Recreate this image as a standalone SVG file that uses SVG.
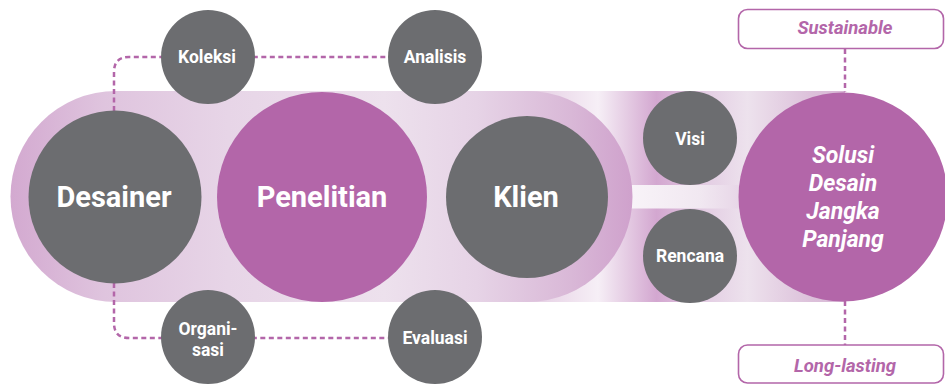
<svg xmlns="http://www.w3.org/2000/svg" width="945" height="384" viewBox="0 0 945 384">
  <defs>
    <linearGradient id="pillGrad" gradientUnits="userSpaceOnUse" x1="10" y1="0" x2="633" y2="0">
      <stop offset="0" stop-color="#d3a9d0"/>
      <stop offset="0.15" stop-color="#dfc4de"/>
      <stop offset="0.35" stop-color="#e7d5e7"/>
      <stop offset="0.6" stop-color="#ede1ed"/>
      <stop offset="0.75" stop-color="#e6d3e6"/>
      <stop offset="0.9" stop-color="#d9b8d7"/>
      <stop offset="1" stop-color="#cfa1cc"/>
    </linearGradient>
    <linearGradient id="barGrad" gradientUnits="userSpaceOnUse" x1="520" y1="0" x2="845" y2="0">
      <stop offset="0" stop-color="#e2c8e0"/>
      <stop offset="0.24" stop-color="#f6eff6"/>
      <stop offset="0.42" stop-color="#d3a7d0"/>
      <stop offset="0.58" stop-color="#e4cfe4"/>
      <stop offset="0.7" stop-color="#ede2ed"/>
      <stop offset="0.9" stop-color="#dcc0da"/>
      <stop offset="1" stop-color="#d8b8d6"/>
    </linearGradient>
    <linearGradient id="gapGrad" gradientUnits="userSpaceOnUse" x1="632" y1="0" x2="745" y2="0">
      <stop offset="0" stop-color="#f8f3f8"/>
      <stop offset="0.6" stop-color="#f1e8f1"/>
      <stop offset="1" stop-color="#e6d4e6"/>
    </linearGradient>
    <style>
      .gray { fill: #6c6d70; }
      .mag { fill: #b366a9; }
      .lbl { font-family: Roboto, "Liberation Sans", sans-serif; font-weight: 700; fill: #ffffff; text-anchor: middle; }
      .big { font-size: 29px; }
      .small { font-size: 17.5px; }
      .sol { font-size: 23px; font-style: italic; }
      .dash { fill: none; stroke: #b366a9; stroke-width: 2.5; stroke-dasharray: 5 3.5; }
      .tag { fill: #ffffff; stroke: #b366a9; stroke-width: 1.6; }
      .tagtxt { font-family: Roboto, "Liberation Sans", sans-serif; font-weight: 700; font-style: italic; font-size: 18.5px; fill: #b366a9; text-anchor: middle; }
    </style>
  </defs>

  <!-- background band -->
  <g id="band">
    <rect x="520" y="91" width="325" height="211" fill="url(#barGrad)"/>
    <rect x="620" y="185" width="225" height="23.5" fill="url(#gapGrad)"/>
    <path d="M116 91 H527 A105.5 105.5 0 0 1 527 302 H116 A105.5 105.5 0 0 1 116 91 Z" fill="url(#pillGrad)"/>
  </g>

  <!-- dashed connectors -->
  <g id="connectors">
    <path class="dash" d="M114 111 V72 Q114 57 129 57 H435"/>
    <path class="dash" d="M114 283 V323 Q114 338 129 338 H435"/>
    <path class="dash" d="M845 49 V92"/>
    <path class="dash" d="M845 301 V345"/>
  </g>

  <g id="desainer">
    <circle class="gray" cx="115" cy="197" r="86.5"/>
    <text class="lbl big" x="114" y="207">Desainer</text>
  </g>
  <g id="penelitian">
    <circle class="mag" cx="322" cy="197" r="105"/>
    <text class="lbl big" x="322" y="207">Penelitian</text>
  </g>
  <g id="klien">
    <circle class="gray" cx="527" cy="197" r="81"/>
    <text class="lbl big" x="526" y="207">Klien</text>
  </g>

  <g id="koleksi">
    <circle class="gray" cx="208" cy="57" r="47"/>
    <text class="lbl small" x="207" y="63">Koleksi</text>
  </g>
  <g id="analisis">
    <circle class="gray" cx="435" cy="57" r="47"/>
    <text class="lbl small" x="435" y="63">Analisis</text>
  </g>
  <g id="organisasi">
    <circle class="gray" cx="208" cy="337" r="47"/>
    <text class="lbl small" x="208" y="335">Organi-</text>
    <text class="lbl small" x="208" y="356">sasi</text>
  </g>
  <g id="evaluasi">
    <circle class="gray" cx="435" cy="337" r="47"/>
    <text class="lbl small" x="435" y="344">Evaluasi</text>
  </g>

  <g id="visi">
    <circle class="gray" cx="690" cy="138" r="47"/>
    <text class="lbl small" x="690" y="145">Visi</text>
  </g>
  <g id="rencana">
    <circle class="gray" cx="690" cy="256" r="47"/>
    <text class="lbl small" x="690" y="262">Rencana</text>
  </g>

  <g id="solusi">
    <circle class="mag" cx="843" cy="197" r="104.5"/>
    <text class="lbl sol" x="843" y="163">Solusi</text>
    <text class="lbl sol" x="843" y="191">Desain</text>
    <text class="lbl sol" x="843" y="219">Jangka</text>
    <text class="lbl sol" x="843" y="247">Panjang</text>
  </g>

  <g id="sustainable">
    <rect class="tag" x="738.5" y="9.5" width="205" height="39" rx="9"/>
    <text class="tagtxt" x="845" y="34">Sustainable</text>
  </g>
  <g id="long-lasting">
    <rect class="tag" x="738.5" y="345" width="205" height="38" rx="9"/>
    <text class="tagtxt" x="845" y="372">Long-lasting</text>
  </g>
</svg>
